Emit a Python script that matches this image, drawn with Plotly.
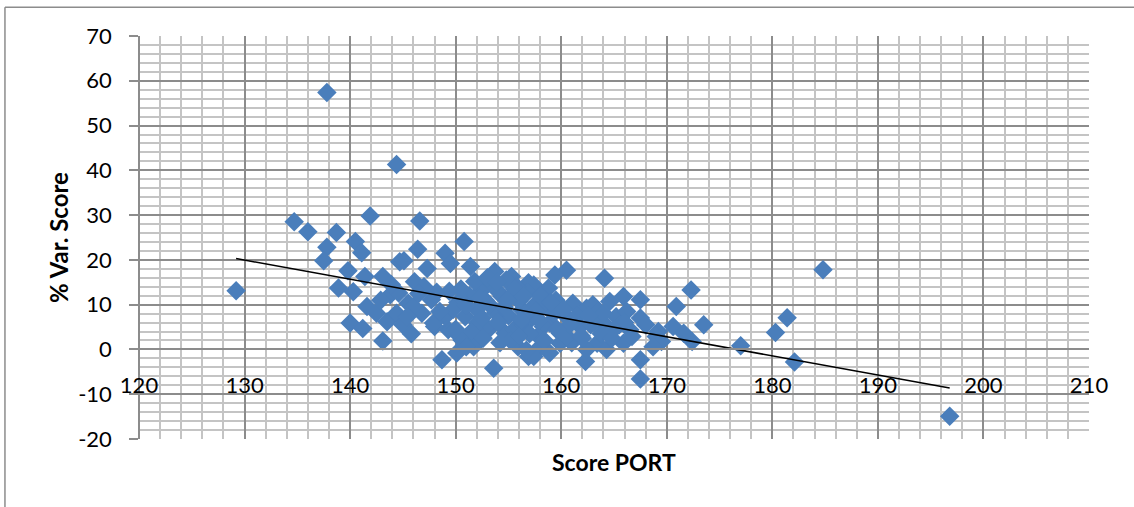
import plotly.graph_objects as go

# ---- data ----
score_port = [
    129.2, 137.8, 144.4, 184.8, 196.8,
    134.7, 136.0, 138.7, 141.9, 137.8, 137.5, 140.5, 141.1, 139.8, 138.9, 140.3, 141.4, 143.1, 143.8,
    141.6, 142.5, 140.0, 141.2, 143.1, 143.5, 144.4, 144.7,
    146.6, 150.8, 146.4, 145.1, 149.0, 149.5, 147.3, 151.4, 153.7, 155.3, 156.9, 144.6, 146.1, 145.0,
    146.8, 148.7, 153.6, 150.1, 151.7, 149.3, 150.9, 152.5, 154.4, 156.3, 155.9, 156.9, 147.7, 145.5,
    149.0, 153.1, 154.7, 152.1, 150.6, 148.0,
    160.5, 159.4, 158.8, 164.1, 157.4, 161.1, 162.4, 164.6, 165.9, 167.5, 167.5, 169.2, 167.5, 167.5,
    162.3, 163.4, 165.9, 166.5, 164.3, 161.8, 159.9, 158.0, 157.4, 158.9, 160.5, 165.2, 163.4, 169.0, 158.9,
    172.3, 170.9, 173.5, 170.6, 172.4, 171.6, 169.5, 177.0, 180.3, 181.4, 182.1,
    166.7, 164.3, 162.4, 159.9, 156.7, 158.3, 155.5, 152.9, 150.4, 151.0, 147.9, 146.0, 145.4, 168.7,
    150.2, 151.3, 152.0, 152.8, 153.5, 154.0, 154.8, 155.5, 156.0, 156.8, 157.5, 158.0, 158.6, 159.3,
    155.0, 153.8, 152.5, 151.5, 154.0, 156.5, 157.2, 157.8, 155.2, 154.2, 152.6, 149.8, 150.5, 151.8,
    153.0, 155.8, 157.0, 159.5, 160.2, 161.5, 162.8, 163.8, 164.8, 165.5, 166.2, 163.0, 161.0, 160.5,
    162.0, 148.5, 148.2, 147.0, 146.5, 145.8, 163.5, 168.0, 166.0,
    153.2, 154.6, 156.2, 155.6, 157.6, 158.4, 159.0, 151.0, 152.3, 153.9, 150.0, 149.4, 156.0, 154.9,
    160.8, 161.9, 163.1, 164.0, 165.0, 162.6, 159.6, 157.9, 156.4, 143.9, 142.9,
]
var_score = [
    13.1, 57.4, 41.3, 17.8, -14.9,
    28.5, 26.3, 26.1, 29.8, 22.8, 19.8, 24.1, 21.6, 17.6, 13.7, 12.9, 16.3, 16.3, 12.2,
    9.6, 8.1, 5.9, 4.7, 1.9, 6.2, 8.1, 19.6,
    28.7, 24.1, 22.4, 19.8, 21.5, 19.2, 18.1, 18.5, 17.4, 16.3, 14.9, 12.6, 15.1, 5.5,
    8.1, -2.3, -4.2, -0.8, 0.6, 4.4, 7.3, 13.3, 11.8, 8.8, 0.6, -1.6, 11.1, 10.3,
    7.3, 4.4, 3.6, 5.9, 2.1, 5.1,
    17.7, 16.6, 13.7, 15.9, 14.4, 10.3, 9.2, 10.7, 11.8, 11.1, 7.0, 4.0, -2.3, -6.6,
    -2.7, 1.4, 1.4, 4.4, 5.1, 5.1, 3.6, 0.6, -1.6, 5.9, 7.3, 7.3, 7.3, 2.9, -0.8,
    13.3, 9.6, 5.5, 5.1, 1.8, 3.6, 1.8, 0.8, 3.8, 7.1, -2.8,
    2.9, 0.0, 0.0, 1.4, -0.2, 5.1, 4.4, 5.1, 2.9, 0.6, 5.9, 9.6, 7.3, 0.6,
    10.5, 12.0, 9.0, 11.0, 14.5, 13.0, 15.5, 12.5, 10.8, 12.8, 10.0, 12.0, 9.5, 8.0,
    7.5, 8.2, 7.0, 4.0, 6.0, 5.5, 7.0, 3.0, 2.0, 1.5, 2.5, 9.0, 13.5, 15.2,
    16.0, 14.0, 3.5, 11.0, 9.0, 7.5, 5.5, 3.5, 2.5, 5.5, 8.5, 10.0, 1.5, 3.0,
    2.5, 8.5, 12.8, 14.0, 12.5, 3.5, 8.5, 5.5, 6.0,
    10.0, 9.5, 6.5, 13.5, 8.5, 2.0, 10.5, 9.8, 11.5, 15.0, 4.5, 13.0, 3.0, 11.0,
    5.5, 3.0, 6.0, 8.0, 4.5, 7.5, 4.5, 6.5, 12.0, 14.5, 11.0,
]
# linear trendline: y = intercept + slope * x
trend_slope = -0.428
trend_intercept = 75.6

x_ticks = [120, 130, 140, 150, 160, 170, 180, 190, 200, 210]
y_ticks = [-20, -10, 0, 10, 20, 30, 40, 50, 60, 70]

x_title = "Score PORT"
y_title = "% Var. Score"

FONT = "Lato, Carlito, Calibri, sans-serif"
MAJOR = "#8C8C8C"
MINOR = "#C4C4C4"
TICK_SIZE = 22
TITLE_SIZE = 23

tx = [min(score_port), max(score_port)]
ty = [trend_intercept + trend_slope * v for v in tx]

fig = go.Figure()
fig.add_trace(go.Scatter(
    x=score_port, y=var_score, mode="markers",
    marker=dict(symbol="diamond", size=15, color="#4A7EBB",
                line=dict(width=0)),
    showlegend=False, hoverinfo="x+y",
))
fig.add_trace(go.Scatter(
    x=tx, y=ty, mode="lines", line=dict(color="black", width=1.5),
    showlegend=False, hoverinfo="skip",
))

fig.update_layout(
    width=1134, height=507,
    margin=dict(l=139, r=45, t=36, b=68),
    paper_bgcolor="white", plot_bgcolor="white",
    font=dict(family=FONT, size=TICK_SIZE, color="black"),
    xaxis=dict(
        range=[120, 210], tickvals=x_ticks, ticktext=[str(v) for v in x_ticks],
        showgrid=True, gridcolor=MAJOR, gridwidth=1.5,
        minor=dict(dtick=2, showgrid=True, gridcolor=MINOR, gridwidth=1.5),
        zeroline=False, showline=True, linecolor=MAJOR, linewidth=1.5,
        anchor="free", position=20 / 90, ticks="", ticklabelstandoff=16,
        tickfont=dict(family=FONT, size=TICK_SIZE, color="black"),
    ),
    yaxis=dict(
        range=[-20, 70], tickvals=y_ticks, ticktext=[str(v) for v in y_ticks],
        showgrid=True, gridcolor=MAJOR, gridwidth=1.5,
        minor=dict(dtick=2, showgrid=True, gridcolor=MINOR, gridwidth=1.5),
        zeroline=False, showline=True, linecolor=MAJOR, linewidth=1.5,
        anchor="free", position=0, ticks="outside", ticklen=9, tickcolor=MAJOR,
        tickwidth=1.5, ticklabelstandoff=13,
        tickfont=dict(family=FONT, size=TICK_SIZE, color="black"),
        title=dict(text="<b>" + y_title + "</b>", standoff=2,
                   font=dict(family=FONT, size=24, color="black")),
    ),
    annotations=[dict(
        text="<b>" + x_title + "</b>", xref="paper", yref="paper",
        x=0.5, y=-0.056, xanchor="center", yanchor="middle", showarrow=False,
        font=dict(family=FONT, size=TITLE_SIZE, color="black"),
    )],
    shapes=[
        dict(type="line", xref="paper", yref="paper", x0=-0.1411, x1=1.06,
             y0=1.0711, y1=1.0711, line=dict(color="#8C8C8C", width=1.5)),
        dict(type="line", xref="paper", yref="paper", x0=-0.1411, x1=-0.1411,
             y0=1.0711, y1=-0.2, line=dict(color="#8C8C8C", width=1.5)),
    ],
)

fig.write_html("out.html")
